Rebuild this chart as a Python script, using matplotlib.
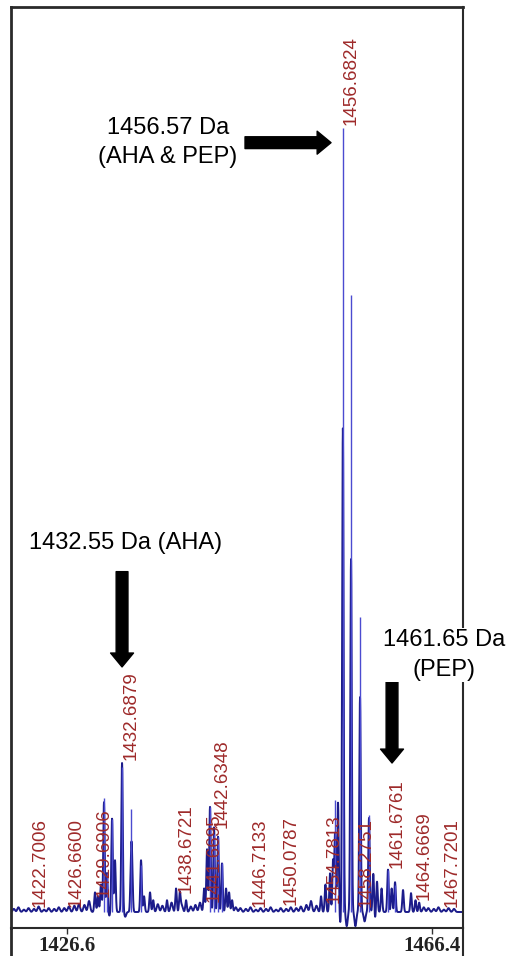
import numpy as np
import matplotlib
matplotlib.use("Agg")
import matplotlib.pyplot as plt
from matplotlib.lines import Line2D

# profile (dark trace) peaks: mass, relative intensity
prof_mass = [1429.65, 1429.98, 1430.30, 1430.63, 1430.96, 1431.51, 1431.83, 1432.60,
             1433.58, 1433.69, 1434.67, 1435.00, 1435.65, 1436.00, 1437.50, 1438.49,
             1438.90, 1439.58,
             1441.55, 1441.87, 1442.19, 1442.63, 1443.07, 1443.50, 1443.94, 1444.27, 1444.60,
             1454.30, 1454.78, 1455.28, 1455.60, 1455.83, 1456.15, 1456.68, 1457.57,
             1458.55, 1459.53, 1460.00, 1460.40, 1460.90, 1461.60, 1462.00, 1462.37,
             1463.24, 1464.11, 1464.60, 1465.00]
prof_int = [2.5, 2.0, 3.5, 14.0, 5.0, 11.9, 6.6, 19.0,
            6.0, 5.4, 6.6, 2.0, 2.5, 1.5, 1.5, 3.0,
            2.4, 1.5,
            3.0, 8.0, 13.4, 10.8, 9.6, 6.2, 3.0, 2.5, 1.5,
            2.0, 3.5, 5.0, 7.0, 10.0, 14.0, 61.7, 45.0,
            27.4, 12.0, 5.0, 4.0, 3.0, 5.4, 3.0, 3.8,
            2.8, 2.4, 1.5, 1.2]

# small dips below baseline between the main isotope peaks
dip_mass = [1455.50, 1456.40, 1457.10, 1458.05, 1459.05, 1460.20, 1431.20, 1432.95]
dip_int = [-0.8, -1.5, -1.8, -1.8, -1.2, -1.0, -0.5, -0.6]

# baseline ripple
rip_mass = [1420.8, 1421.3, 1421.9, 1422.4, 1423.0, 1423.5, 1424.1, 1424.6, 1425.2,
            1425.7, 1426.3, 1426.8, 1427.4, 1427.9, 1428.5, 1429.0,
            1436.5, 1437.0, 1438.0, 1439.1, 1440.1, 1440.6, 1441.1,
            1445.0, 1445.5, 1446.1, 1446.6, 1447.2, 1447.7, 1448.3, 1448.8, 1449.4,
            1449.9, 1450.5, 1451.0, 1451.6, 1452.1, 1452.7, 1453.2, 1453.8,
            1465.5, 1466.0, 1466.6, 1467.1, 1467.7, 1468.2, 1468.8, 1469.3]
rip_int = [0.4, 0.6, 0.3, 0.5, 0.4, 0.7, 0.3, 0.5, 0.4,
           0.6, 0.5, 0.7, 0.8, 1.0, 0.9, 1.4,
           1.0, 0.8, 1.2, 0.9, 0.7, 0.9, 1.2,
           0.6, 0.5, 0.4, 0.6, 0.3, 0.5, 0.4, 0.6,
           0.3, 0.5, 0.4, 0.6, 0.5, 0.7, 0.9, 1.4,
           0.8, 0.6, 0.5, 0.4, 0.6, 0.3, 0.5, 0.4]

# centroid sticks (light blue)
stick_mass = [1430.63, 1430.96, 1431.51, 1432.60, 1433.58, 1434.67,
              1442.19, 1442.63, 1443.07, 1443.50,
              1455.83, 1456.68, 1457.57, 1458.55, 1459.53, 1461.60, 1462.37]
stick_int = [14.5, 5.0, 11.9, 18.5, 13.1, 6.0,
             13.4, 10.0, 9.6, 6.2,
             14.3, 100.0, 78.7, 37.6, 12.4, 5.4, 3.4]

# peak labels: text, y of label foot
lab_text = ["1422.7006", "1426.6600", "1429.6906", "1432.6879", "1438.6721",
            "1441.6695", "1442.6348", "1446.7133", "1450.0787", "1454.7813",
            "1456.6824", "1458.2751", "1461.6761", "1464.6669", "1467.7201"]
lab_y = [0.64, 0.64, 1.9, 19.4, 2.4, 1.3, 10.7, 0.64, 0.9, 1.15,
         100.4, 0.64, 5.6, 1.5, 0.64]

tick_vals = [1426.6, 1466.4]

W, H = 508, 956
fig = plt.figure(figsize=(W / 100, H / 100), dpi=100)
ax = fig.add_axes([11 / W, 28 / H, 452 / W, 921 / H])

m = np.arange(1420.0, 1470.5, 0.01)
y = np.zeros_like(m)
for c, h in zip(prof_mass, prof_int):
    y += h * np.exp(-0.5 * ((m - c) / 0.08) ** 2)
for c, h in zip(dip_mass, dip_int):
    y += h * np.exp(-0.5 * ((m - c) / 0.1) ** 2)
for c, h in zip(rip_mass, rip_int):
    y += h * np.exp(-0.5 * ((m - c) / 0.12) ** 2)

ax.plot(m, y, color="#1c1c8a", lw=1.4, zorder=2)
ax.vlines(stick_mass, 0, stick_int, color="#4b4bd0", lw=1.0, zorder=2.2)

for t, yy in zip(lab_text, lab_y):
    ax.text(float(t), yy, t, rotation=90, ha="left", va="bottom",
            color="#9e2a2a", fontsize=13.5, family="Liberation Sans", zorder=3)

ax.set_xlim(1420.49, 1469.78)
ax.set_ylim(-2.04, 115.4)
ax.set_yticks([])
ax.set_xticks(tick_vals)
ax.set_xticklabels(["%.1f" % v for v in tick_vals], fontsize=15,
                   family="Liberation Serif", fontweight="bold", color="#222222")
ax.tick_params(axis="x", direction="out", length=4, width=1, pad=1.5, color="#333333")

for s in ["left", "top"]:
    ax.spines[s].set_linewidth(2.0)
    ax.spines[s].set_color("#2a2a2a")
for s in ["right", "bottom"]:
    ax.spines[s].set_linewidth(1.5)
    ax.spines[s].set_color("#2a2a2a")
# box continues below the axis line
ax.add_line(Line2D([0, 0], [0, -0.05], transform=ax.transAxes, color="#2a2a2a",
                   lw=2.0, clip_on=False, zorder=2.5))
ax.add_line(Line2D([1, 1], [0, -0.05], transform=ax.transAxes, color="#2a2a2a",
                   lw=1.5, clip_on=False, zorder=2.5))

font = dict(family="Liberation Sans", fontsize=17, color="black")
ax.text(1433.03, 47.1, "1432.55 Da (AHA)", ha="center", va="center", **font)
ax.text(1437.61, 98.1, "1456.57 Da\n(AHA & PEP)", ha="center", va="center",
        linespacing=1.45, **font)
ax.text(1467.7, 32.8, "1461.65 Da\n(PEP)", ha="center", va="center", linespacing=1.45,
        bbox=dict(facecolor="white", edgecolor="none", pad=1), zorder=5,
        clip_on=False, **font)

arrow = dict(arrowstyle="simple,head_length=1.0,head_width=1.65,tail_width=0.85",
             mutation_scale=10, color="black", shrinkA=0, shrinkB=0)
ax.annotate("", xy=(1432.6, 31.25), xytext=(1432.6, 43.4), arrowprops=arrow)
ax.annotate("", xy=(1462.04, 19.0), xytext=(1462.04, 31.25), arrowprops=arrow)
ax.annotate("", xy=(1455.39, 98.1), xytext=(1446.01, 98.1), arrowprops=arrow)

fig.savefig("out.png", dpi=100)
